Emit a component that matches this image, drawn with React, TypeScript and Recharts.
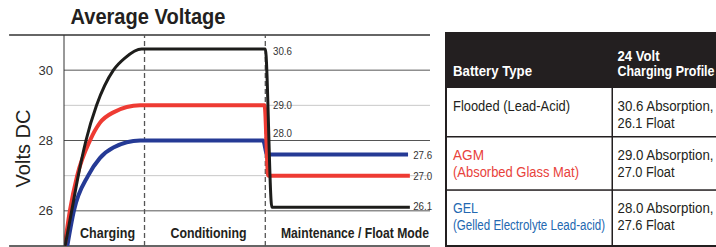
import React from 'react';
import { LineChart, Line, XAxis, YAxis, ReferenceLine, ReferenceDot } from 'recharts';

// ---- Chart data (time in % of cycle, volts DC) ----
const floodedTime = [0.3, 2.1, 3.9, 6.0, 8.9, 13.5, 16.7, 21.2, 22, 55, 56.8, 94.5];
const floodedVolts = [25.0, 26, 27, 28, 29, 30, 30.35, 30.6, 30.6, 30.6, 26.1, 26.1];

const agmTime = [0.2, 1.6, 3.6, 7.1, 9.8, 13.5, 20.8, 22, 54.8, 55.8, 94.5];
const agmVolts = [25.0, 26, 27, 28, 28.5, 28.8, 29.0, 29.0, 29.0, 27.0, 27.0];

const gelTime = [0.9, 2.7, 6.6, 9.8, 13.5, 20.8, 22, 54.4, 55.5, 94];
const gelVolts = [25.0, 26, 27, 27.5, 27.8, 28.0, 28.0, 28.0, 27.6, 27.6];

const yTicks = [26, 28, 30];
const minorGrid = [27, 29];
const phaseBoundaries = [22, 55];
const phaseNames = ['Charging', 'Conditioning', 'Maintenance / Float Mode'];
const phaseCenters = [11.9, 39.5, 79.5];
const phaseWidths = [55, 76, 148];

const absorptionLabels = ['30.6', '29.0', '28.0'];
const absorptionLabelY = [30.54, 29.0, 28.2];
const floatLabels = ['27.6', '27.0', '26.1'];
const floatLabelY = [27.6, 27.0, 26.13];

// ---- Table data ----
const batteryTypes = ['Flooded (Lead-Acid)', 'AGM', 'GEL'];
const batteryTypeWidths = [117, 31, 25];
const batterySubtitles = ['', '(Absorbed Glass Mat)', '(Gelled Electrolyte Lead-acid)'];
const batterySubtitleWidths = [0, 126, 152];
const batteryColors = ['#231f20', '#e8423b', '#2368b1'];
const absorptionVolts = ['30.6', '29.0', '28.0'];
const floatVolts = ['26.1', '27.0', '27.6'];

const toPoints = (t: number[], v: number[]) => t.map((x, i) => ({ t: x, v: v[i] }));
const floodedData = toPoints(floodedTime, floodedVolts);
const agmData = toPoints(agmTime, agmVolts);
const gelData = toPoints(gelTime, gelVolts);

const SANS = "'Liberation Sans', Arial, sans-serif";
const INK = '#231f20';

const textAt = (text: string, opts: any) => (props: any) => {
  const vb = props.viewBox || {};
  const x = (vb.x ?? 0) + (vb.width ?? 0) / 2;
  const y = (vb.y ?? 0) + (vb.height ?? 0) / 2;
  const fit = opts.width ? { textLength: opts.width, lengthAdjust: 'spacingAndGlyphs' } : {};
  return (
    <text
      x={x}
      y={y}
      textAnchor={opts.anchor || 'start'}
      dominantBaseline={opts.baseline || 'central'}
      fontFamily={SANS}
      fontSize={opts.size || 10.5}
      fontWeight={opts.weight || 'normal'}
      fill={opts.fill || '#333'}
      {...fit}
    >
      {text}
    </text>
  );
};

const yLabel = (props: any) => {
  const vb = props.viewBox || { x: 0, y: 0, width: 0, height: 0 };
  const x = vb.x + 23;
  const y = vb.y + vb.height / 2 + 8;
  return (
    <text x={x} y={y} transform={`rotate(-90 ${x} ${y})`} textAnchor="middle" dominantBaseline="central"
      fontFamily={SANS} fontSize={20} fill={INK}>
      Volts DC
    </text>
  );
};

const Fit = ({ x, y, w, size = 14, weight = 'normal', fill = INK, children }: any) => (
  <text x={x} y={y} fontFamily={SANS} fontSize={size} fontWeight={weight} fill={fill}
    textLength={w} lengthAdjust="spacingAndGlyphs">
    {children}
  </text>
);

function Table() {
  const rowTops = [88, 137, 190];
  return (
    <svg width={716} height={247} style={{ position: 'absolute', left: 0, top: 0 }}>
      <text x={148} y={24} textAnchor="middle" fontFamily={SANS} fontWeight="bold" fontSize={22} fill={INK}
        textLength={155} lengthAdjust="spacingAndGlyphs">
        Average Voltage
      </text>
      <rect x={445} y={32} width={280} height={56} fill={INK} />
      <rect x={445} y={32} width={2} height={215} fill={INK} />
      <rect x={611.5} y={88} width={1.5} height={159} fill={INK} />
      <rect x={445} y={136} width={280} height={1.5} fill={INK} />
      <rect x={445} y={189.3} width={280} height={1.5} fill={INK} />
      <rect x={445} y={245} width={280} height={2} fill={INK} />
      <Fit x={453} y={76} w={79} weight="bold" fill="#fff">Battery Type</Fit>
      <Fit x={617.5} y={61} w={42} weight="bold" fill="#fff">24 Volt</Fit>
      <Fit x={617.5} y={76} w={97} weight="bold" fill="#fff">Charging Profile</Fit>
      {batteryTypes.map((name, i) => (
        <g key={name}>
          <Fit x={453} y={rowTops[i] + 23} w={batteryTypeWidths[i]} fill={batteryColors[i]}>{name}</Fit>
          {batterySubtitles[i] && (
            <Fit x={453} y={rowTops[i] + 40} w={batterySubtitleWidths[i]} fill={batteryColors[i]}>{batterySubtitles[i]}</Fit>
          )}
          <Fit x={617.5} y={rowTops[i] + 23} w={96}>{absorptionVolts[i]} Absorption,</Fit>
          <Fit x={617.5} y={rowTops[i] + 40} w={57}>{floatVolts[i]} Float</Fit>
        </g>
      ))}
    </svg>
  );
}

export default function App() {
  return (
    <div style={{ position: 'absolute', left: 0, top: 0, width: 716, height: 247, background: '#fff', overflow: 'hidden' }}>
      <Table />
      <div style={{ position: 'absolute', left: 0, top: 0 }}>
        <LineChart width={440} height={247} margin={{ top: 35, right: 10, bottom: 1, left: 0 }}>
          <XAxis type="number" dataKey="t" domain={[0, 100]} hide allowDataOverflow />
          <YAxis type="number" domain={[25, 31]} ticks={yTicks} width={64} tickLine={false}
            axisLine={{ stroke: '#333', strokeWidth: 1 }} allowDataOverflow
            tick={{ fontFamily: SANS, fontSize: 13, fill: '#333' }} tickMargin={5}
            label={yLabel} />
          {minorGrid.map((y) => (
            <ReferenceLine key={'m' + y} y={y} stroke="#c8c8c8" strokeWidth={1} />
          ))}
          {yTicks.map((y) => (
            <ReferenceLine key={'g' + y} y={y} stroke="#555" strokeWidth={1} />
          ))}
          <ReferenceLine segment={[{ x: -15, y: 31 }, { x: 100, y: 31 }]} stroke="#333" strokeWidth={1.5} ifOverflow="visible" />
          <ReferenceLine segment={[{ x: -15, y: 25 }, { x: 100, y: 25 }]} stroke="#333" strokeWidth={1.5} ifOverflow="visible" />
          {phaseBoundaries.map((x) => (
            <ReferenceLine key={'p' + x} x={x} stroke="#555" strokeWidth={1.3} strokeDasharray="5 3" />
          ))}
          <Line data={gelData} dataKey="v" type="monotone" stroke="#253a95" strokeWidth={4} dot={false} isAnimationActive={false} />
          <Line data={agmData} dataKey="v" type="monotone" stroke="#ee3b33" strokeWidth={4} dot={false} isAnimationActive={false} />
          <Line data={floodedData} dataKey="v" type="monotone" stroke="#1d1d1b" strokeWidth={3} dot={false} isAnimationActive={false} />
          {absorptionLabels.map((s, i) => (
            <ReferenceDot key={'a' + s} x={57.1} y={absorptionLabelY[i]} r={0} fill="none" stroke="none"
              label={textAt(s, { size: 10.5, width: 19 })} />
          ))}
          {floatLabels.map((s, i) => (
            <ReferenceDot key={'f' + s} x={95.4} y={floatLabelY[i]} r={0} fill="none" stroke="none"
              label={textAt(s, { size: 10.5, width: 19 })} />
          ))}
          {phaseNames.map((s, i) => (
            <ReferenceDot key={'n' + s} x={phaseCenters[i]} y={25.24} r={0} fill="none" stroke="none"
              label={textAt(s, { anchor: 'middle', baseline: 'alphabetic', weight: 'bold', size: 15, fill: INK, width: phaseWidths[i] })} />
          ))}
        </LineChart>
      </div>
    </div>
  );
}
